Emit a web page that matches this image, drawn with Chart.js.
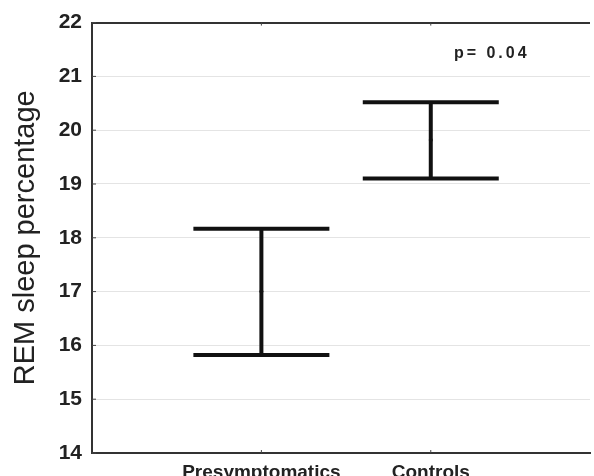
<!DOCTYPE html>
<html>
<head>
<meta charset="utf-8">
<script src="https://cdn.jsdelivr.net/npm/chart.js@4/dist/chart.umd.min.js"></script>
<style>
  html, body { margin: 0; padding: 0; background: #fff; }
  canvas { display: block; }
</style>
</head>
<body>
<canvas id="chart" width="594" height="476"></canvas>
<script>
const categories = ["Presymptomatics", "Controls"];
const means = [17.0, 19.82];
const lowerBounds = [15.82, 19.1];
const upperBounds = [18.17, 20.52];
const yTicks = [14, 15, 16, 17, 18, 19, 20, 21, 22];
const pValueText = "p= 0.04";

// error bars with caps, drawn from the data through the scales
const errorBars = {
  id: "errorBars",
  afterDatasetsDraw(chart) {
    const { ctx, chartArea, scales: { x, y } } = chart;
    ctx.save();
    ctx.strokeStyle = "#111";
    ctx.lineWidth = 4;
    ctx.lineCap = "butt";
    categories.forEach((cat, i) => {
      const px = x.getPixelForValue(i + 1);
      const top = y.getPixelForValue(upperBounds[i]);
      const bot = y.getPixelForValue(lowerBounds[i]);
      ctx.beginPath();
      ctx.moveTo(px, top);
      ctx.lineTo(px, bot);
      ctx.moveTo(px - 68, top);
      ctx.lineTo(px + 68, top);
      ctx.moveTo(px - 68, bot);
      ctx.lineTo(px + 68, bot);
      ctx.stroke();
    });
    // small inner tick marks
    ctx.strokeStyle = "#444";
    ctx.lineWidth = 1;
    ctx.beginPath();
    yTicks.forEach(v => {
      const py = y.getPixelForValue(v);
      ctx.moveTo(chartArea.left, py);
      ctx.lineTo(chartArea.left + 4, py);
    });
    categories.forEach((cat, i) => {
      const px = x.getPixelForValue(i + 1);
      ctx.moveTo(px, chartArea.bottom);
      ctx.lineTo(px, chartArea.bottom - 3);
      ctx.moveTo(px, chartArea.top);
      ctx.lineTo(px, chartArea.top + 3);
    });
    ctx.stroke();
    // p value label
    ctx.fillStyle = "#222";
    ctx.font = "bold 16px 'Liberation Sans', Arial, sans-serif";
    ctx.textAlign = "center";
    ctx.textBaseline = "middle";
    if ("letterSpacing" in ctx) ctx.letterSpacing = "3px";
    ctx.fillText(pValueText, x.getPixelForValue(2.36), y.getPixelForValue(21.43));
    ctx.restore();
  }
};

new Chart(document.getElementById("chart"), {
  type: "scatter",
  data: {
    datasets: [{
      data: means.map((m, i) => ({ x: i + 1, y: m })),
      pointRadius: 2,
      pointBackgroundColor: "#111",
      pointBorderWidth: 0
    }]
  },
  options: {
    responsive: false,
    animation: false,
    devicePixelRatio: 1,
    layout: { padding: { top: 22, right: 0, left: 0, bottom: 0 } },
    plugins: { legend: { display: false }, tooltip: { enabled: false } },
    scales: {
      x: {
        type: "linear",
        min: 0,
        max: 2.94,
        afterFit(scale) { scale.height = 23; },
        afterBuildTicks(scale) { scale.ticks = [{ value: 1 }, { value: 2 }]; },
        grid: { display: false },
        border: { display: true, color: "#333", width: 2 },
        ticks: {
          padding: 0,
          color: "#222",
          font: { family: "'Liberation Sans', Arial, sans-serif", size: 19, weight: "bold" },
          callback: (v) => categories[v - 1]
        }
      },
      y: {
        min: 14,
        max: 22,
        afterFit(scale) { scale.width = 92; },
        afterBuildTicks(scale) { scale.ticks = yTicks.map(v => ({ value: v })); },
        grid: {
          drawTicks: false,
          color: (c) => c.tick && c.tick.value === 22 ? "#333" : "#e4e4e4",
          lineWidth: (c) => c.tick && c.tick.value === 22 ? 2 : 1
        },
        border: { display: true, color: "#333", width: 2 },
        ticks: {
          padding: 10,
          color: "#222",
          font: { family: "'Liberation Sans', Arial, sans-serif", size: 21, weight: "bold" }
        },
        title: {
          display: true,
          text: "REM sleep percentage",
          color: "#222",
          padding: { top: 9, bottom: 0 },
          font: { family: "'Liberation Sans', Arial, sans-serif", size: 29 }
        }
      }
    }
  },
  plugins: [errorBars]
});
</script>
</body>
</html>
